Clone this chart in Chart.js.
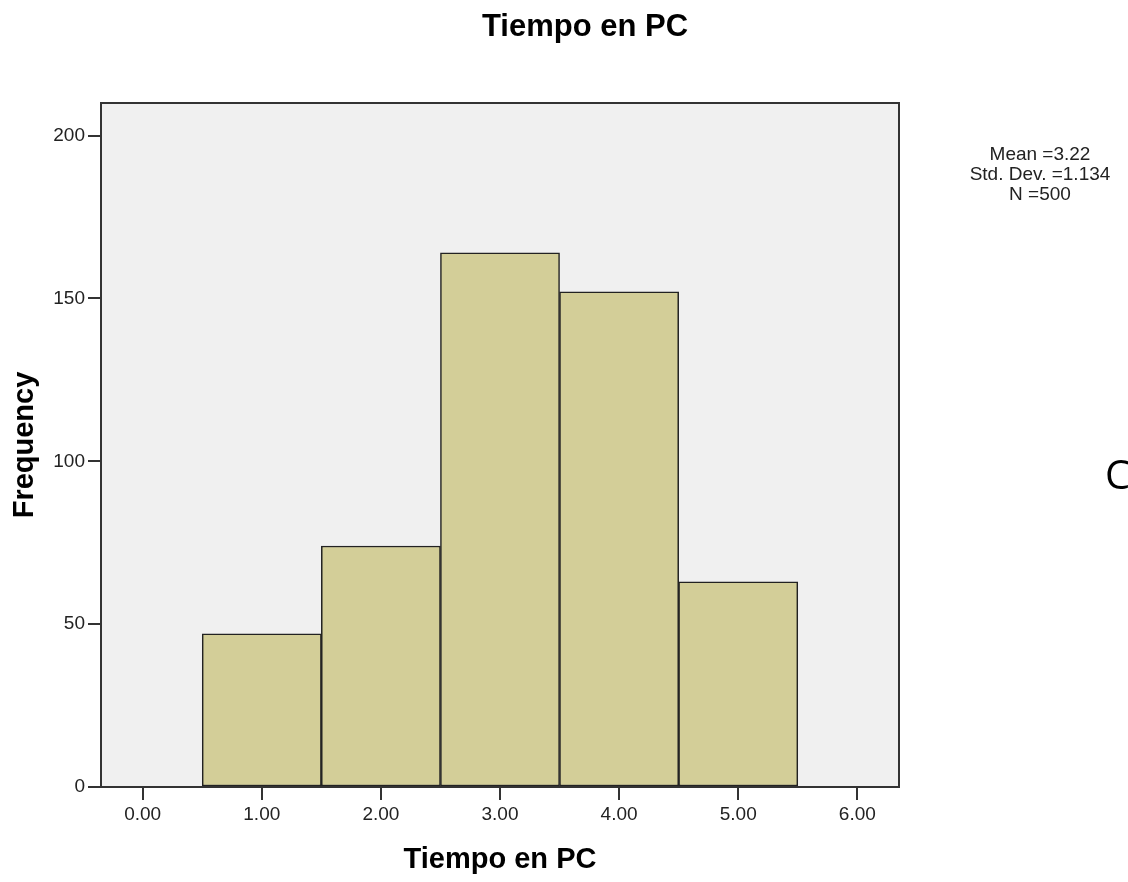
<!DOCTYPE html>
<html>
<head>
<meta charset="utf-8">
<script src="https://cdn.jsdelivr.net/npm/chart.js@4.4.0/dist/chart.umd.min.js"></script>
<style>
  body { margin: 0; background: #fff; }
  canvas { display: block; }
</style>
</head>
<body>
<canvas id="hist" width="1128" height="882"></canvas>
<script>
// datos del histograma
const binCenters = [1, 2, 3, 4, 5];
const frequencies = [47, 74, 164, 152, 63];
const xTicks = [0, 1, 2, 3, 4, 5, 6];
const yTicks = [0, 50, 100, 150, 200];
const statsLines = ['Mean =3.22', 'Std. Dev. =1.134', 'N =500'];

const FONT = "'Liberation Sans', Arial, sans-serif";

const decor = {
  id: 'decor',
  beforeDraw(chart) {
    const { ctx, chartArea: a } = chart;
    ctx.save();
    ctx.fillStyle = '#f0f0f0';
    ctx.fillRect(a.left, a.top, a.right - a.left, a.bottom - a.top);
    ctx.restore();
  },
  afterDraw(chart) {
    const { ctx, chartArea: a } = chart;
    ctx.save();
    ctx.strokeStyle = '#333';
    ctx.lineWidth = 2;
    ctx.strokeRect(a.left, a.top, a.right - a.left, a.bottom - a.top);

    ctx.fillStyle = '#000';
    ctx.textAlign = 'center';
    ctx.textBaseline = 'middle';
    ctx.font = "bold 31px " + FONT;
    ctx.fillText('Tiempo en PC', 585, 27);

    ctx.fillStyle = '#222';
    ctx.font = "19px " + FONT;
    statsLines.forEach((t, i) => ctx.fillText(t, 1040, 155 + i * 20));

    ctx.fillStyle = '#000';
    ctx.textAlign = 'left';
    ctx.font = "40px 'Open Sans', " + FONT;
    ctx.fillText('C', 1105, 478);
    ctx.restore();
  }
};

new Chart(document.getElementById('hist'), {
  type: 'bar',
  data: {
    datasets: [{
      data: binCenters.map((x, i) => ({ x: x, y: frequencies[i] })),
      backgroundColor: '#d3ce98',
      borderColor: '#222',
      borderWidth: 1.5,
      borderSkipped: false,
      barPercentage: 1,
      categoryPercentage: 1
    }]
  },
  options: {
    responsive: false,
    animation: false,
    layout: { padding: { left: 8, top: 103, right: 229, bottom: 5 } },
    plugins: { legend: { display: false }, tooltip: { enabled: false } },
    scales: {
      x: {
        type: 'linear',
        offset: false,
        min: -0.35,
        max: 6.35,
        afterBuildTicks: s => { s.ticks = xTicks.map(v => ({ value: v })); },
        afterFit: s => { s.height = 90; },
        grid: { offset: false, drawOnChartArea: false, drawTicks: true, tickLength: 13, color: '#333', lineWidth: 2 },
        border: { display: true, color: '#333', width: 2 },
        ticks: { color: '#222', font: { family: FONT, size: 19 }, padding: 3, callback: v => v.toFixed(2) },
        title: { display: true, text: 'Tiempo en PC', color: '#000', font: { family: FONT, size: 29, weight: 'bold' }, padding: { top: 0, bottom: 0 } }
      },
      y: {
        min: 0,
        max: 210,
        afterBuildTicks: s => { s.ticks = yTicks.map(v => ({ value: v })); },
        afterFit: s => { s.width = 93; },
        grid: { drawOnChartArea: false, drawTicks: true, tickLength: 13, color: '#333', lineWidth: 2 },
        border: { display: true, color: '#333', width: 2 },
        ticks: { color: '#222', font: { family: FONT, size: 19 }, padding: 3 },
        title: { display: true, text: 'Frequency', color: '#000', font: { family: FONT, size: 29, weight: 'bold' }, padding: { top: 0, bottom: 0 } }
      }
    }
  },
  plugins: [decor]
});
</script>
</body>
</html>
